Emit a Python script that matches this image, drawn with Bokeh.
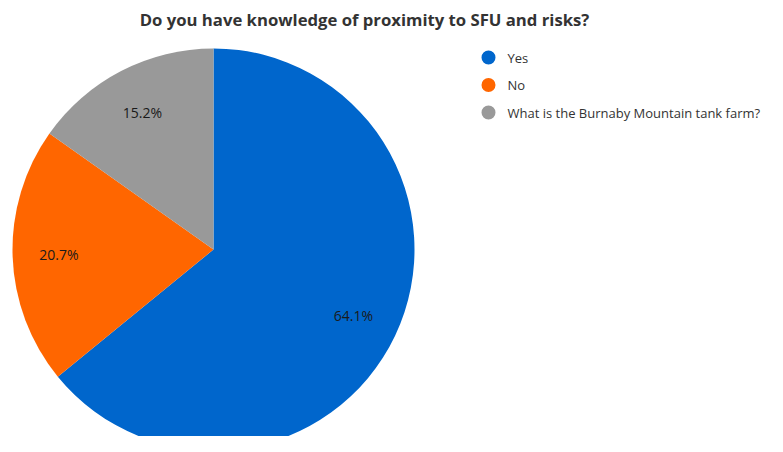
from math import pi, cos, sin
from bokeh.plotting import figure
from bokeh.models import Range1d, ColumnDataSource
from bokeh.core.properties import value
from bokeh.embed import file_html
from bokeh.resources import INLINE

title = "Do you have knowledge of proximity to SFU and risks?"
categories = ["Yes", "No", "What is the Burnaby Mountain tank farm?"]
shares = [64.1, 20.7, 15.2]
colors = ["#0066CC", "#FF6600", "#999999"]

W, H = 767, 436
TOP = 452  # data y at top edge of the plot
p = figure(width=W, height=H, output_backend="svg", toolbar_location=None,
           x_range=Range1d(0, W), y_range=Range1d(TOP - H, TOP),
           min_border=0)
p.axis.visible = False
p.grid.visible = False
p.outline_line_color = None
p.background_fill_color = "white"
p.border_fill_color = "white"

FONT = value("Open Sans")
cx, cy, r = 213, TOP - 249, 201
total = sum(shares)
starts, ends, mids = [], [], []
a = pi / 2
for s in shares:
    span = s / total * 2 * pi
    starts.append(a)
    ends.append(a - span)
    mids.append(a - span / 2)
    a -= span

src = ColumnDataSource(dict(
    start=starts, end=ends, color=colors,
    lx=[cx + 0.77 * r * cos(m) for m in mids],
    ly=[cy + 0.77 * r * sin(m) for m in mids],
    label=[f"{s:.1f}%" for s in shares],
))
p.wedge(x=cx, y=cy, radius=r, start_angle="start", end_angle="end",
        direction="clock", fill_color="color", line_color=None, source=src)
p.text(x="lx", y="ly", text="label", source=src, text_align="center",
       text_baseline="middle", text_font=FONT, text_font_size="14px",
       text_color="#1a1a1a")

# legend
lsrc = ColumnDataSource(dict(
    x=[488] * 3, y=[TOP - 57 - 27.5 * i for i in range(3)],
    tx=[507] * 3, cat=categories, color=colors))
p.scatter(x="x", y="y", size=14, fill_color="color", line_color=None, source=lsrc)
p.text(x="tx", y="y", text="cat", source=lsrc, text_baseline="middle",
       text_font=FONT, text_font_size="13px", text_color="#333333")

# title
p.text(x=[364], y=[TOP - 19], text=[title], text_align="center", text_baseline="middle",
       text_font=FONT, text_font_size="16.7px", text_font_style="bold",
       text_color="#333333")

open("out.html", "w").write(file_html(p, INLINE))
